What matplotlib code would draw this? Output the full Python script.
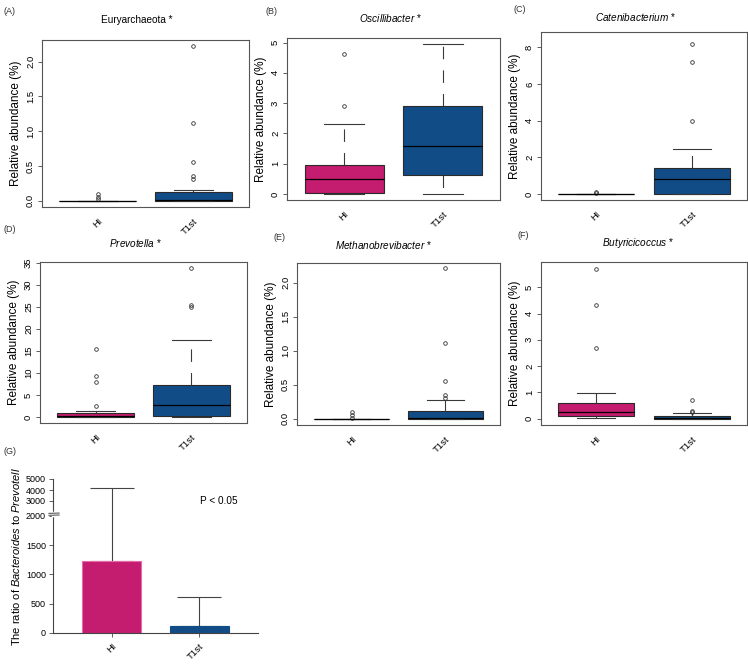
import numpy as np
import matplotlib
matplotlib.use('Agg')
import matplotlib.pyplot as plt
from matplotlib.lines import Line2D

plt.rcParams['font.family'] = 'sans-serif'
plt.rcParams['font.sans-serif'] = ['Liberation Sans', 'DejaVu Sans']
plt.rcParams['mathtext.fontset'] = 'custom'
plt.rcParams['mathtext.rm'] = 'Liberation Sans'
plt.rcParams['mathtext.it'] = 'Liberation Sans:italic'
plt.rcParams['lines.scale_dashes'] = False

groups = ['HI', 'T1st']
col_hi = '#C41C6E'
col_t1 = '#124C87'

# box stats: whislo, q1, median, q3, whishi
eury_hi = [0, 0, 0, 0, 0]
eury_hi_out = [0.02, 0.06, 0.10]
eury_t1 = [0, 0, 0.01, 0.12, 0.16]
eury_t1_out = [0.31, 0.35, 0.56, 1.12, 2.22]

osci_hi = [0, 0.04, 0.48, 0.95, 2.30]
osci_hi_out = [2.90, 4.63]
osci_t1 = [0, 0.62, 1.58, 2.92, 4.95]
osci_t1_out = []

cate_hi = [0, 0, 0, 0, 0]
cate_hi_out = [0.04, 0.08]
cate_t1 = [0, 0, 0.80, 1.40, 2.44]
cate_t1_out = [4.0, 7.2, 8.2]

prev_hi = [0, 0, 0.3, 1.0, 1.5]
prev_hi_out = [2.5, 7.9, 9.4, 15.4]
prev_t1 = [0, 0.35, 2.8, 7.3, 17.5]
prev_t1_out = [25.1, 25.4, 33.9]

meth_hi = [0, 0, 0, 0, 0]
meth_hi_out = [0.02, 0.05, 0.10]
meth_t1 = [0, 0, 0.01, 0.12, 0.28]
meth_t1_out = [0.31, 0.35, 0.56, 1.12, 2.22]

buty_hi = [0.01, 0.11, 0.24, 0.61, 0.96]
buty_hi_out = [2.70, 4.34, 5.71]
buty_t1 = [0, 0, 0.04, 0.10, 0.20]
buty_t1_out = [0.25, 0.29, 0.70]

# ratio panel (G)
ratio_mean = [1235, 125]
ratio_err = [2965, 485]
ratio_ticks = [0, 500, 1000, 1500, 2000, 3000, 4000, 5000]

W, H = 748, 664
fig = plt.figure(figsize=(W / 100, H / 100), dpi=100)


def px_axes(l, r, t, b):
    return fig.add_axes([l / W, 1 - b / H, (r - l) / W, (b - t) / H])


def make_stats(v, out):
    return dict(whislo=v[0], q1=v[1], med=v[2], q3=v[3], whishi=v[4], fliers=out)


def boxpanel(box, hi, hi_out, t1, t1_out, ylim, yticks, fmt):
    ax = px_axes(*box)
    stats = [make_stats(hi, hi_out), make_stats(t1, t1_out)]
    bp = ax.bxp(stats, positions=[1, 2], widths=0.8, patch_artist=True, capwidths=0.4,
                boxprops=dict(lw=0.8, edgecolor='#2a2a2a'),
                medianprops=dict(color='black', lw=0.9),
                whiskerprops=dict(color='#3a3a3a', lw=0.8, linestyle=(0, (9, 8))),
                capprops=dict(color='#3a3a3a', lw=0.8),
                flierprops=dict(marker='o', ms=2.6, mfc='none', mec='#333333', mew=0.6))
    for patch, c in zip(bp['boxes'], [col_hi, col_t1]):
        patch.set_facecolor(c)
    ax.set_xlim(0.42, 2.58)
    ax.set_ylim(*ylim)
    ax.set_yticks(yticks)
    ax.set_yticklabels([fmt % t for t in yticks], rotation=90, va='center', fontsize=6.8)
    ax.set_xticks([1, 2])
    ax.set_xticklabels(groups, rotation=45, fontsize=6.8, ha='right', rotation_mode='anchor')
    ax.tick_params(axis='y', length=3, width=0.6, color='#444444', pad=2)
    ax.tick_params(axis='x', length=0, pad=7)
    for s in ax.spines.values():
        s.set_color('#555555')
        s.set_linewidth(0.8)
    ax.set_ylabel('Relative abundance (%)', fontsize=8.5, labelpad=3)
    return ax


boxpanel((42, 249, 40, 207), eury_hi, eury_hi_out, eury_t1, eury_t1_out, (-0.09, 2.31), [0, 0.5, 1.0, 1.5, 2.0], '%.1f')
boxpanel((287, 500, 38, 200), osci_hi, osci_hi_out, osci_t1, osci_t1_out, (-0.2, 5.15), [0, 1, 2, 3, 4, 5], '%d')
boxpanel((541, 747, 32, 200), cate_hi, cate_hi_out, cate_t1, cate_t1_out, (-0.33, 8.83), [0, 2, 4, 6, 8], '%d')
boxpanel((40, 247, 262, 423), prev_hi, prev_hi_out, prev_t1, prev_t1_out, (-1.3, 35.2), [0, 5, 10, 15, 20, 25, 30, 35], '%d')
boxpanel((297, 500, 263, 425), meth_hi, meth_hi_out, meth_t1, meth_t1_out, (-0.09, 2.29), [0, 0.5, 1.0, 1.5, 2.0], '%.1f')
boxpanel((541, 747, 262, 425), buty_hi, buty_hi_out, buty_t1, buty_t1_out, (-0.24, 5.96), [0, 1, 2, 3, 4, 5], '%d')

# titles and panel letters
titles = ['Euryarchaeota *', r'$\it{Oscillibacter}$ *', r'$\it{Catenibacterium}$ *',
          r'$\it{Prevotella}$ *', r'$\it{Methanobrevibacter}$ *', r'$\it{Butyricicoccus}$ *']
title_pos = [(137, 20), (390, 18), (636, 17), (135, 243), (383, 245), (638, 243)]
for t, (x, y) in zip(titles, title_pos):
    fig.text(x / W, 1 - y / H, t, ha='center', va='center', fontsize=7.2)

letters = ['(A)', '(B)', '(C)', '(D)', '(E)', '(F)', '(G)']
letter_pos = [(4, 11), (266, 11), (513, 10), (4, 230), (273, 238), (518, 235), (4, 452)]
for t, (x, y) in zip(letters, letter_pos):
    fig.text(x / W, 1 - y / H, t, ha='left', va='center', fontsize=6.5, color='#333333')

# panel G with broken y axis
knots_in = [-1e5, 0, 2000, 3000, 4000, 5000, 1e5]
knots_out = [-1e5, 0, 2000, 2255, 2442, 2630, 2630 + 95000 * 0.187]


def fwd(y):
    return np.interp(y, knots_in, knots_out)


def inv(y):
    return np.interp(y, knots_out, knots_in)


axg = px_axes(53, 258, 479, 633)
axg.set_yscale('function', functions=(fwd, inv))
axg.bar([0, 1], ratio_mean, width=0.67, color=[col_hi, col_t1],
        edgecolor=['#E86AA8', col_t1], linewidth=0.8, zorder=2)
axg.errorbar([0, 1], ratio_mean, yerr=[[0, 0], ratio_err], fmt='none', ecolor='#444444',
             elinewidth=0.8, capsize=16, capthick=0.8, zorder=1)
axg.set_xlim(-0.67, 1.67)
axg.set_ylim(0, 5000)
axg.set_yticks(ratio_ticks)
axg.set_yticklabels([str(t) for t in ratio_ticks], fontsize=6.5)
axg.set_xticks([0, 1])
axg.set_xticklabels(groups, rotation=45, fontsize=6.8, ha='right', rotation_mode='anchor')
axg.tick_params(axis='y', length=3, width=0.6, color='#444444', pad=2)
axg.tick_params(axis='x', length=3, width=0.6, color='#444444', pad=3)
axg.spines['top'].set_visible(False)
axg.spines['right'].set_visible(False)
for s in ['left', 'bottom']:
    axg.spines[s].set_color('#444444')
    axg.spines[s].set_linewidth(0.8)
axg.set_ylabel(r'The ratio of $\it{Bacteroides}$ to $\it{Prevotell}$', fontsize=8, labelpad=3)
axg.text(0.9, 0.86, 'P < 0.05', transform=axg.transAxes, ha='right', va='center', fontsize=7.2)

# break marks on the y axis
tr = axg.get_yaxis_transform()
axg.add_line(Line2D([0, 0], [2040, 2190], transform=tr, color='white', lw=2.5,
                    clip_on=False, zorder=5))
for yb in [2040, 2170]:
    axg.add_line(Line2D([-0.02, 0.03], [yb, yb + 20], transform=tr, color='#444444', lw=0.7,
                        clip_on=False, zorder=6))

fig.savefig('out.png', dpi=100)
